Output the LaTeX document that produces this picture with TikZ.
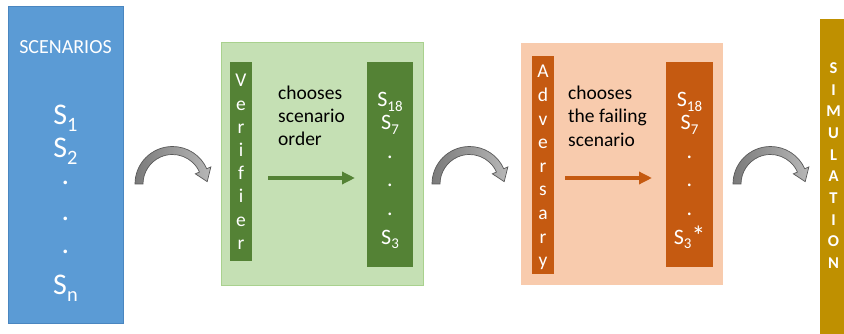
\documentclass[tikz,border=0pt]{standalone}
\usepackage{fontspec}
\setmainfont{Carlito}
\usetikzlibrary{arrows.meta,calc}
\definecolor{scenblue}{HTML}{5B9BD5}
\definecolor{scenedge}{HTML}{4A86C0}
\definecolor{lgreen}{HTML}{C5E0B4}
\definecolor{lgreenedge}{HTML}{A9D18E}
\definecolor{dgreen}{HTML}{548235}
\definecolor{lorange}{HTML}{F8CBAD}
\definecolor{dorange}{HTML}{C55A11}
\definecolor{simgold}{HTML}{BF9000}
\newcommand\Ssub[1]{S\raisebox{-0.22em}{\scalebox{0.68}{#1}}}
\begin{document}
\begin{tikzpicture}[x=1pt,y=-1pt,
  panel/.style={rectangle,inner sep=0pt,outer sep=0pt},
  wtxt/.style={text=white,inner sep=0pt,anchor=base},
  bigS/.style={wtxt,font=\fontsize{30}{32}\selectfont},
  midS/.style={wtxt,font=\fontsize{22}{24}\selectfont},
  barletter/.style={wtxt,font=\fontsize{19.5}{21}\selectfont},
  simletter/.style={wtxt,font=\fontsize{16.5}{18}\selectfont\bfseries},
  lbl/.style={inner sep=0pt,anchor=base west,font=\fontsize{19.5}{21}\selectfont},
  flatarrow/.style={line width=3.4pt,-{Triangle[length=13pt,width=12pt]}},
  curvedarr/.style={draw=black!65,line width=0.7pt,left color=black!52,right color=black!28},
  curv/.pic={
    \path[curvedarr] (180:29.5) -- (180:37.5) arc[start angle=180,end angle=336,radius=37.5]
      -- (336:42) -- ($(336:33.5)+(70:12)$) -- (336:25) -- (336:29.5)
      arc[start angle=336,end angle=180,radius=29.5] -- cycle;
  }]
\useasboundingbox (0,0) rectangle (844,334);
\fill[white] (0,0) rectangle (844,334);

% scenarios panel
\node[panel,fill=scenblue,draw=scenedge,line width=0.8pt,minimum width=115pt,minimum height=317pt] (scen) at (65.5,164.5) {};
\node[wtxt,font=\fontsize{20}{22}\selectfont] (scentitle) at (65.5,54) {SCENARIOS};
\node[bigS] (s1) at (65.5,124.5) {\Ssub{1}};
\node[bigS] (s2) at (65.5,157.5) {\Ssub{2}};
\node[bigS] (sd1) at (65.5,185) {.};
\node[bigS] (sd2) at (65.5,220) {.};
\node[bigS] (sd3) at (65.5,254) {.};
\node[bigS] (sn) at (65.5,294.5) {\Ssub{n}};

% verifier panel
\node[panel,fill=lgreen,draw=lgreenedge,line width=0.8pt,minimum width=202pt,minimum height=243pt] (gpanel) at (322,163.5) {};
\node[panel,fill=dgreen,minimum width=22pt,minimum height=199pt] (vbar) at (241,161.5) {};
\foreach \ch [count=\i] in {V,e,r,i,f,i,e,r}
  \node[barletter] (ver\i) at (241,{87+23.2*(\i-1)}) {\ch};
\node[panel,fill=dgreen,minimum width=46pt,minimum height=205pt] (gbar) at (390,164.5) {};
\node[midS] (g18) at (390,107) {\Ssub{18}};
\node[midS] (g7) at (390,130) {\Ssub{7}};
\node[midS] (gd1) at (390,159) {.};
\node[midS] (gd2) at (390,187) {.};
\node[midS] (gd3) at (390,215) {.};
\node[midS] (g3) at (390,244) {\Ssub{3}};
\node[lbl] (gt1) at (278,99.5) {chooses};
\node[lbl] (gt2) at (278,122.5) {scenario};
\node[lbl] (gt3) at (278,145.5) {order};
\coordinate (ay) at (0,178);
\draw[flatarrow,dgreen,shorten <=16pt,shorten >=12pt] (vbar.east |- ay) -- (gbar.west |- ay);

% adversary panel
\node[panel,fill=lorange,minimum width=202pt,minimum height=242pt] (opanel) at (622,164) {};
\node[panel,fill=dorange,minimum width=22pt,minimum height=218pt] (abar) at (543,165) {};
\foreach \ch [count=\i] in {A,d,v,e,r,s,a,r,y}
  \node[barletter] (adv\i) at (543,{78+23.6*(\i-1)}) {\ch};
\node[panel,fill=dorange,minimum width=47pt,minimum height=205pt] (obar) at (689.5,164.5) {};
\node[midS] (o18) at (689.5,107) {\Ssub{18}};
\node[midS] (o7) at (689.5,130) {\Ssub{7}};
\node[midS] (od1) at (689.5,159) {.};
\node[midS] (od2) at (689.5,187) {.};
\node[midS] (od3) at (689.5,215) {.};
\node[midS] (o3) at (689.5,244) {\Ssub{3}\raisebox{-0.05em}{\scalebox{1.25}{*}}};
\node[lbl] (ot1) at (568,99.5) {chooses};
\node[lbl] (ot2) at (568,123) {the failing};
\node[lbl] (ot3) at (568,146.5) {scenario};
\draw[flatarrow,dorange,shorten <=11pt,shorten >=14pt] (abar.east |- ay) -- (obar.west |- ay);

% simulation bar
\node[panel,fill=simgold,minimum width=24pt,minimum height=315pt] (sim) at (832,176.5) {};
\foreach \ch [count=\i] in {S,I,M,U,L,A,T,I,O,N}
  \node[simletter] (sim\i) at (833.5,{73.5+21.67*(\i-1)}) {\ch};

% curved arrows
\coordinate (c1) at (172.5,184);
\coordinate (c2) at (469.5,184);
\coordinate (c3) at (770.5,184);
\pic at (c1) {curv};
\pic at (c2) {curv};
\pic at (c3) {curv};
\end{tikzpicture}
\end{document}
